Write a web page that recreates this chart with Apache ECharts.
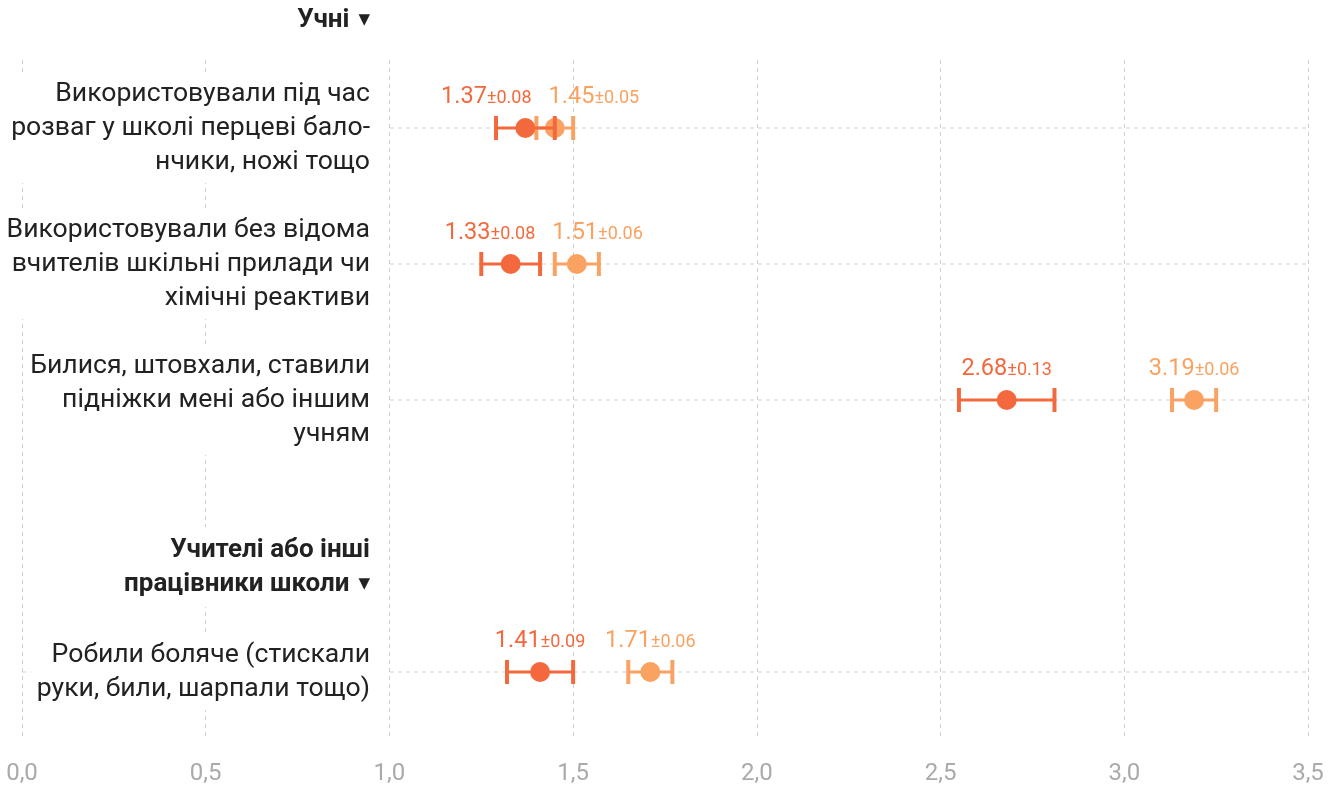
<!DOCTYPE html>
<html><head><meta charset="utf-8">
<script src="https://cdn.jsdelivr.net/npm/echarts@6/dist/echarts.min.js"></script>
<style>html,body{margin:0;padding:0;background:#fff}#c{width:1338px;height:785px}</style>
</head><body><div id="c"></div>
<script>
const categories = [
  'Використовували під час\nрозваг у школі перцеві бало-\nнчики, ножі тощо',
  'Використовували без відома\nвчителів шкільні прилади чи\nхімічні реактиви',
  'Билися, штовхали, ставили\nпідніжки мені або іншим\nучням',
  '',
  'Робили боляче (стискали\nруки, били, шарпали тощо)'
];
const header1 = 'Учні';
const header2 = ['Учителі або інші', 'працівники школи'];
const meansA = [1.37, 1.33, 2.68, null, 1.41];
const errsA  = [0.08, 0.08, 0.13, null, 0.09];
const meansB = [1.45, 1.51, 3.19, null, 1.71];
const errsB  = [0.05, 0.06, 0.06, null, 0.06];
const xTicks = [0, 0.5, 1.0, 1.5, 2.0, 2.5, 3.0, 3.5];

const colA = '#F3693D', colB = '#F9A261';
const FONT = 'Roboto, "Noto Sans", sans-serif';
const X_MIN = xTicks[0], X_MAX = xTicks[xTicks.length - 1];
const F_MAIN = 23.5, F_ERR = 18;

const mctx = document.createElement('canvas').getContext('2d');
function labelWidth(m, e) {
  mctx.font = F_MAIN + 'px ' + FONT; const w1 = mctx.measureText(m.toFixed(2)).width;
  mctx.font = F_ERR + 'px ' + FONT; const w2 = mctx.measureText('±' + e.toFixed(2)).width;
  return w1 + w2;
}

function buildData(means, errs) {
  const d = [];
  means.forEach((m, i) => { if (m != null) d.push([m, errs[i], i]); });
  return d;
}

function makeRender(which) {
  return function (params, api) {
    const m = api.value(0), e = api.value(1), r = api.value(2);
    const c = api.coord([m, r]);
    const lo = api.coord([m - e, r]);
    const hi = api.coord([m + e, r]);
    const color = which === 'A' ? colA : colB;
    const pA = api.coord([meansA[r], r])[0], pB = api.coord([meansB[r], r])[0];
    const wA = labelWidth(meansA[r], errsA[r]), wB = labelWidth(meansB[r], errsB[r]);
    const gap = 17;
    let cxA = pA, cxB = pB;
    const need = (wA + wB) / 2 + gap;
    const dist = Math.abs(pB - pA);
    if (dist < need) {
      const s = (need - dist) / 2;
      if (pA <= pB) { cxA -= s; cxB += s; } else { cxA += s; cxB -= s; }
    }
    const lx = which === 'A' ? cxA : cxB;
    const y = c[1], capH = 12;
    return {
      type: 'group',
      children: [
        { type: 'line', shape: { x1: lo[0], y1: y, x2: hi[0], y2: y }, style: { stroke: color, lineWidth: 3 } },
        { type: 'line', shape: { x1: lo[0], y1: y - capH, x2: lo[0], y2: y + capH }, style: { stroke: color, lineWidth: 4 } },
        { type: 'line', shape: { x1: hi[0], y1: y - capH, x2: hi[0], y2: y + capH }, style: { stroke: color, lineWidth: 4 } },
        { type: 'circle', shape: { cx: c[0], cy: y, r: 10 }, style: { fill: color } },
        { type: 'text', x: lx, y: y - 31, style: {
            text: '{a|' + m.toFixed(2) + '}{b|±' + e.toFixed(2) + '}',
            align: 'center', verticalAlign: 'middle',
            rich: {
              a: { fontSize: F_MAIN, fontFamily: FONT, fill: color },
              b: { fontSize: F_ERR, fontFamily: FONT, fill: color, padding: [3, 0, 0, 0] }
            }
        } }
      ]
    };
  };
}

function renderRowLine(params, api) {
  const r = api.value(0);
  const a = api.coord([X_MIN, r]), b = api.coord([X_MAX, r]);
  return { type: 'line', shape: { x1: a[0], y1: a[1], x2: b[0], y2: b[1] },
    style: { stroke: '#cfcfcf', lineWidth: 1, lineDash: [4, 4] } };
}

const rowIdx = categories.map((c, i) => c !== '' ? [i] : null).filter(v => v);

const chart = echarts.init(document.getElementById('c'), null, { renderer: 'canvas' });
const dashed = { color: '#cfcfcf', type: [4, 4], width: 1 };
chart.setOption({
  animation: false,
  textStyle: { fontFamily: FONT },
  grid: { left: 22, right: 30, top: 60, bottom: 45, containLabel: false, outerBoundsMode: 'none' },
  xAxis: {
    type: 'value', min: X_MIN, max: X_MAX, interval: 0.5,
    axisLine: { show: false }, axisTick: { show: false },
    splitLine: { show: true, lineStyle: dashed },
    axisLabel: { color: '#aaaaaa', fontSize: 24, margin: 22, fontFamily: FONT,
      formatter: v => v.toFixed(1).replace('.', ',') }
  },
  yAxis: {
    type: 'category', inverse: true, data: categories, z: 5,
    axisLine: { show: false }, axisTick: { show: false }, splitLine: { show: false },
    axisLabel: {
      inside: true, margin: 367, align: 'right', verticalAlign: 'middle',
      fontSize: 26.6, lineHeight: 34, color: '#222', fontFamily: FONT,
      backgroundColor: '#fff', padding: [4, 19, 4, 6]
    }
  },
  graphic: [
    { type: 'text', x: 370, y: 20, z: 10, style: {
        text: '{h|' + header1 + '}{t|▼}', align: 'right', verticalAlign: 'middle',
        rich: { h: { fontSize: 26, fontWeight: 'bold', fontFamily: FONT, fill: '#222' },
                t: { fontSize: 15, fill: '#222', fontFamily: 'DejaVu Sans', padding: [0, 0, 0, 9] } } } },
    { type: 'text', x: 389, y: 567, z: 10, style: {
        text: '{h|' + header2[0] + '}\n{h|' + header2[1] + '}{t|▼}', align: 'right', verticalAlign: 'middle',
        backgroundColor: '#fff', padding: [6, 19, 6, 12],
        rich: { h: { fontSize: 26, lineHeight: 34, fontWeight: 'bold', fontFamily: FONT, fill: '#222' },
                t: { fontSize: 15, lineHeight: 34, fill: '#222', fontFamily: 'DejaVu Sans', padding: [0, 0, 0, 9] } } } }
  ],
  series: [
    { type: 'custom', name: 'rows', z: 1, silent: true, renderItem: renderRowLine,
      encode: { x: -1, y: 0 }, data: rowIdx },
    { type: 'custom', name: 'B', z: 2, renderItem: makeRender('B'),
      encode: { x: 0, y: 2 }, data: buildData(meansB, errsB) },
    { type: 'custom', name: 'A', z: 3, renderItem: makeRender('A'),
      encode: { x: 0, y: 2 }, data: buildData(meansA, errsA) }
  ]
});
</script></body></html>
